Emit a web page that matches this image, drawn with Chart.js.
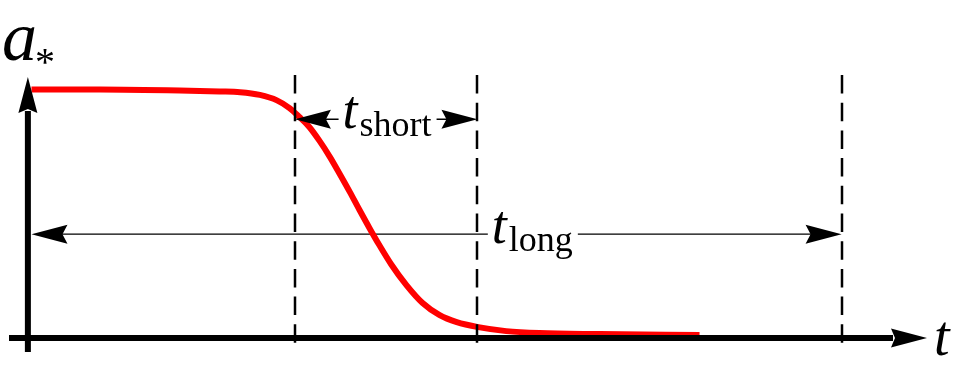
<!DOCTYPE html>
<html>
<head>
<meta charset="utf-8">
<script src="https://cdn.jsdelivr.net/npm/chart.js@4/dist/chart.umd.min.js"></script>
<style>
  html, body { margin: 0; padding: 0; background: #ffffff; }
  #wrap { width: 956px; height: 372px; position: relative; }
</style>
</head>
<body>
<div id="wrap"><canvas id="c"></canvas></div>
<script>
// ---- data ----
const tValues = [0.04, 0.80, 1.69, 2.13, 2.36, 2.58, 2.77, 2.91, 3.02, 3.13, 3.24, 3.36, 3.47, 3.58, 3.69, 3.80, 3.91, 4.04, 4.21, 4.39, 4.58, 4.77, 5.01, 5.32, 5.69, 6.36, 7.47];
const aValues = [1.000, 1.000, 0.996, 0.992, 0.989, 0.978, 0.956, 0.925, 0.889, 0.849, 0.795, 0.728, 0.659, 0.588, 0.514, 0.442, 0.373, 0.297, 0.213, 0.141, 0.092, 0.064, 0.044, 0.028, 0.020, 0.016, 0.012];
const markerTimes = [2.97, 5.0, 9.05];          // dashed vertical lines
const shortSpan = [2.97, 5.0];                  // t_short arrow
const shortLevel = 0.88;
const longSpan = [0.04, 9.05];                  // t_long arrow
const longLevel = 0.418;
const shortLabelT = 3.5;
const longLabelT = 5.16;
const labelMain = 't';
const labelShort = 'short';
const labelLong = 'long';
const yAxisLabel = 'a';
const yAxisSub = '*';
const xAxisLabel = 't';

const SERIF = '"Liberation Serif", "Times New Roman", Tinos, "DejaVu Serif", serif';

function arrowHead(ctx, tipX, tipY, dx, dy, len, half, notch) {
  const px = -dy, py = dx;
  const bx = tipX - dx * len, by = tipY - dy * len;
  ctx.beginPath();
  ctx.moveTo(tipX, tipY);
  ctx.lineTo(bx + px * half, by + py * half);
  ctx.lineTo(bx + dx * notch, by + dy * notch);
  ctx.lineTo(bx - px * half, by - py * half);
  ctx.closePath();
  ctx.fill();
}

function drawSpanLabel(ctx, x0, yLine, sub) {
  ctx.fillStyle = '#000';
  ctx.textAlign = 'left';
  ctx.textBaseline = 'alphabetic';
  ctx.font = 'italic 54px ' + SERIF;
  ctx.fillText(labelMain, x0, yLine + 9);
  ctx.font = '36px ' + SERIF;
  const w2 = ctx.measureText(sub).width;
  ctx.fillText(sub, x0 + 17, yLine + 17);
  return { left: x0 - 4, right: x0 + 17 + w2 + 5 };
}

function drawSpanArrow(ctx, xa, xb, y, label, lw) {
  const lab = drawSpanLabel(ctx, label.x, y, label.sub);
  ctx.strokeStyle = '#000';
  ctx.lineWidth = lw;
  ctx.setLineDash([]);
  ctx.beginPath();
  ctx.moveTo(xa + 30, y); ctx.lineTo(lab.left, y);
  ctx.moveTo(lab.right, y); ctx.lineTo(xb - 30, y);
  ctx.stroke();
  ctx.fillStyle = '#000';
  arrowHead(ctx, xa, y, -1, 0, 36, 9.5, 5);
  arrowHead(ctx, xb, y, 1, 0, 36, 9.5, 5);
}

const overlay = {
  id: 'overlay',
  beforeDatasetsDraw(chart) {
    const ctx = chart.ctx, xs = chart.scales.x, ys = chart.scales.y;
    ctx.save();
    const y = ys.getPixelForValue(longLevel);
    drawSpanArrow(ctx, xs.getPixelForValue(longSpan[0]), xs.getPixelForValue(longSpan[1]), y,
      { x: xs.getPixelForValue(longLabelT), sub: labelLong }, 1.3);
    ctx.restore();
  },
  afterDatasetsDraw(chart) {
    const ctx = chart.ctx, xs = chart.scales.x, ys = chart.scales.y;
    const area = chart.chartArea;
    ctx.save();
    // dashed vertical lines
    ctx.strokeStyle = '#000';
    ctx.lineWidth = 2.5;
    ctx.setLineDash([18.5, 9.2]);
    markerTimes.forEach(t => {
      const x = Math.round(xs.getPixelForValue(t));
      ctx.beginPath();
      ctx.moveTo(x, area.top - 2);
      ctx.lineTo(x, area.bottom);
      ctx.stroke();
    });
    ctx.setLineDash([]);
    // axes
    const x0 = xs.getPixelForValue(0), y0 = ys.getPixelForValue(0);
    ctx.lineWidth = 6;
    ctx.beginPath();
    ctx.moveTo(area.left, y0); ctx.lineTo(area.right - 34, y0);
    ctx.moveTo(x0, area.bottom); ctx.lineTo(x0, area.top + 34);
    ctx.stroke();
    ctx.fillStyle = '#000';
    arrowHead(ctx, area.right, y0, 1, 0, 36, 9.5, 4);
    arrowHead(ctx, x0, area.top, 0, -1, 36, 9.5, 4);
    // t_short arrow
    const ys1 = ys.getPixelForValue(shortLevel);
    drawSpanArrow(ctx, xs.getPixelForValue(shortSpan[0]), xs.getPixelForValue(shortSpan[1]), ys1,
      { x: xs.getPixelForValue(shortLabelT), sub: labelShort }, 1.3);
    // axis labels
    ctx.fillStyle = '#000';
    ctx.textAlign = 'left';
    ctx.textBaseline = 'alphabetic';
    ctx.font = 'italic 70px ' + SERIF;
    ctx.fillText(yAxisLabel, 2, 60);
    ctx.font = '40px ' + SERIF;
    ctx.fillText(yAxisSub, 35, 75);
    ctx.font = 'italic 56px ' + SERIF;
    ctx.fillText(xAxisLabel, 934, 355);
    ctx.restore();
  }
};

new Chart(document.getElementById('c'), {
  type: 'line',
  data: {
    datasets: [{
      data: tValues.map((t, i) => ({ x: t, y: aValues[i] })),
      borderColor: '#ff0000',
      borderWidth: 6,
      pointRadius: 0,
      cubicInterpolationMode: 'monotone',
      fill: false,
      clip: false
    }]
  },
  options: {
    animation: false,
    responsive: true,
    maintainAspectRatio: false,
    layout: { padding: { left: 9, right: 29, top: 77, bottom: 20 } },
    scales: {
      x: { type: 'linear', min: -0.21, max: 10, display: false },
      y: { type: 'linear', min: -0.056, max: 1.05, display: false }
    },
    plugins: { legend: { display: false }, tooltip: { enabled: false } },
    events: []
  },
  plugins: [overlay]
});
</script>
</body>
</html>
